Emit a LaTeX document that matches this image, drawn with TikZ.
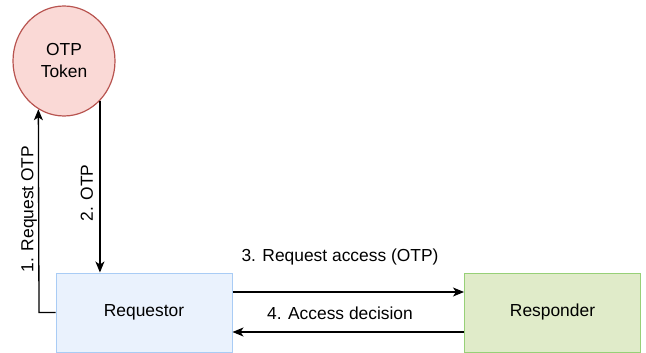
\documentclass[tikz,border=0pt]{standalone}
\usepackage{fontspec}
\setmainfont{Liberation Sans}
\usetikzlibrary{shapes.geometric,arrows.meta}
\definecolor{tokfill}{HTML}{FAD9D6}
\definecolor{tokdraw}{HTML}{B85450}
\definecolor{reqfill}{HTML}{EAF2FD}
\definecolor{reqdraw}{HTML}{A9CCF5}
\definecolor{resfill}{HTML}{E0EBC9}
\definecolor{resdraw}{HTML}{97D077}
\begin{document}
\begin{tikzpicture}[x=1pt,y=-1pt,
  every node/.style={font=\fontsize{17.4}{22}\selectfont},
  boxnode/.style={rectangle,minimum width=176pt,minimum height=79pt,inner sep=0pt,line width=1pt},
  conn/.style={line width=1.3pt,-{Stealth[length=11pt,width=9pt,inset=3pt]}},
  lbl/.style={inner sep=0pt}]
\useasboundingbox (0,0) rectangle (646,353);
\node[ellipse,draw=tokdraw,fill=tokfill,line width=1.2pt,minimum width=102pt,minimum height=110pt,inner sep=0pt,align=center] (tok) at (64,61) {OTP\\Token};
\node[boxnode,draw=reqdraw,fill=reqfill] (req) at (144,312.5) {Requestor};
\node[boxnode,draw=resdraw,fill=resfill] (res) at (552.5,312.5) {Responder};
\coordinate (c1) at (39,312.5);
\draw[conn] (req.west) -- (c1) -- (tok.242.5);
\draw[conn] (tok.312.7) -- (tok.312.7 |- req.north);
\draw[conn] (req.east |- 0,292) -- (res.west |- 0,292);
\draw[conn] (res.west |- 0,332) -- (req.east |- 0,332);
\node[lbl,rotate=90] (l1) at (29,209) {1. Request OTP};
\node[lbl,rotate=90] (l2) at (87,193) {2. OTP};
\node[lbl] (l3) at (340,257) {3. Request access (OTP)};
\node[lbl] (l4) at (340,313) {4. Access decision};
\end{tikzpicture}
\end{document}
